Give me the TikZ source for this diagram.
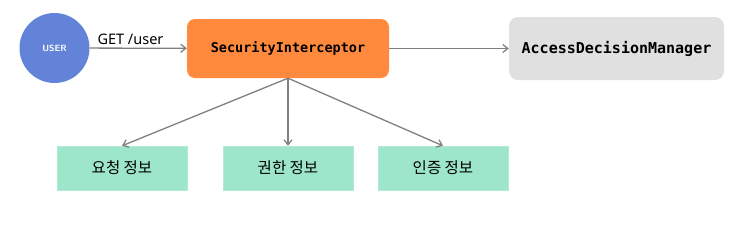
\documentclass[tikz,border=0pt]{standalone}
\usepackage{fontspec}
\setmainfont{Noto Sans}
\setmonofont{DejaVu Sans Mono}
\newfontfamily\krfont{Noto Sans CJK KR}
\usetikzlibrary{arrows.meta}
\definecolor{userblue}{HTML}{6383D9}
\definecolor{siorange}{HTML}{FF8A3D}
\definecolor{admgray}{HTML}{E0E0E0}
\definecolor{infogreen}{HTML}{9EE6CA}
\definecolor{arrowgray}{HTML}{808080}
\tikzset{
  conn/.style={draw=arrowgray, line width=1.3pt, -{Straight Barb[length=5pt,width=8pt]}},
  infobox/.style={fill=infogreen, draw=infogreen!80!white, minimum width=130pt, minimum height=44pt, inner sep=0pt, font=\krfont\fontsize{15.5}{17}\selectfont},
}
\begin{document}
\begin{tikzpicture}[x=1pt,y=-1pt]
\useasboundingbox (0,0) rectangle (737,226);
\node[circle, fill=userblue, minimum size=70pt, inner sep=0pt, text=white, font=\sffamily\bfseries\fontsize{9}{10}\selectfont] (user) at (54.5,48) {USER};
\node[rectangle, rounded corners=8pt, fill=siorange, minimum width=202pt, minimum height=59pt, inner sep=0pt, font=\ttfamily\bfseries\fontsize{13.5}{15}\selectfont] (si) at (288,48.5) {SecurityInterceptor};
\node[rectangle, rounded corners=9pt, fill=admgray, minimum width=215pt, minimum height=63pt, inner sep=0pt, font=\ttfamily\bfseries\fontsize{15}{17}\selectfont] (adm) at (616.5,48.5) {AccessDecisionManager};
\node[infobox] (req) at (122,168) {요청 정보};
\node[infobox] (auth) at (288,168) {권한 정보};
\node[infobox] (cred) at (443,168) {인증 정보};
\draw[conn] (user) -- node[pos=0.42, above=0pt, text=black, font=\fontsize{14.5}{16}\selectfont] {GET /user} (si);
\draw[conn] (si) -- (adm);
\draw[conn] (si.south) -- (req.north);
\draw[conn] (si.south) -- (auth.north);
\draw[conn] (si.south) -- (cred.north);
\end{tikzpicture}
\end{document}
